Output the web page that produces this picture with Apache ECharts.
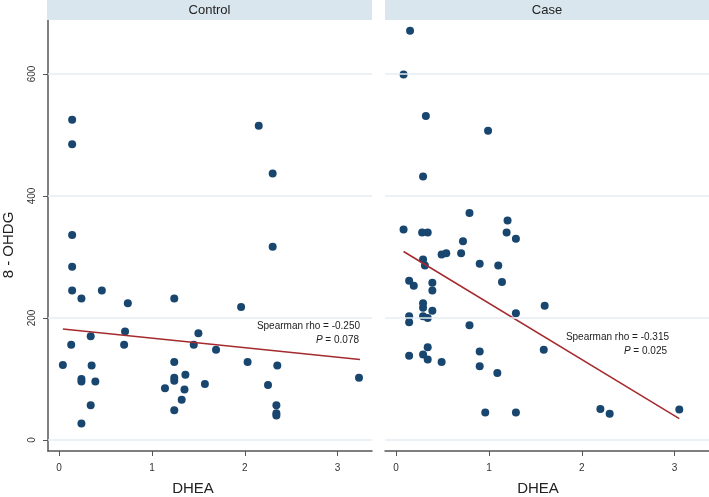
<!DOCTYPE html>
<html>
<head>
<meta charset="utf-8">
<script src="https://cdn.jsdelivr.net/npm/echarts@6/dist/echarts.min.js"></script>
<style>html,body{margin:0;padding:0;background:#fff}#c{width:709px;height:497px}</style>
</head>
<body>
<div id="c"></div>
<script>
// Data
const controlDHEA = [0.14,0.14,2.15,2.30,0.14,2.30,0.14,0.14,0.46,0.24,0.74,1.24,1.96,0.71,1.50,0.34,0.13,0.70,1.45,1.69,0.04,0.35,1.24,2.03,2.35,0.24,0.24,0.39,1.24,1.24,1.36,1.14,1.35,1.57,2.25,3.23,0.34,1.32,1.24,2.34,2.34,2.34,0.24];
const controlOHDG = [525,485,515,437,336,317,284,245,245,232,224,232,218,178,175,170,156,156,156,148,123,122,128,128,122,100,96,96,102,97,107,85,83,92,90,102,57,66,49,57,44,40,27];
const caseDHEA = [0.15,0.08,0.32,0.99,0.29,0.79,1.20,0.08,0.28,0.34,1.19,1.29,0.72,0.29,0.31,0.49,0.54,0.70,0.90,1.10,0.14,0.19,0.39,1.14,0.39,0.29,0.29,0.39,0.14,0.14,0.29,0.34,1.29,1.60,0.79,0.14,0.29,0.34,0.34,0.49,0.90,1.59,0.90,1.09,0.96,1.29,2.20,2.30,3.05];
const caseOHDG = [671,599,531,507,432,372,360,345,340,340,340,330,326,296,286,304,306,306,289,286,261,253,258,259,245,224,217,212,203,193,203,200,208,220,188,138,140,152,132,128,145,148,121,110,45,45,51,43,50];
const controlFitX = [0.04, 3.24];
const controlFitY = [182, 132];
const caseFitX = [0.08, 3.05];
const caseFitY = [309, 35];
const xTicks = [0, 1, 2, 3];
const yTicks = [0, 200, 400, 600];
const panelTitles = ['Control', 'Case'];
const statsControl = ['Spearman rho = -0.250', '0.078'];
const statsCase = ['Spearman rho = -0.315', '0.025'];

const zip = (a, b) => a.map((v, i) => [v, b[i]]);
const FONT = 'Liberation Sans, Arial, sans-serif';
const dotColor = '#18466f';
const lineColor = '#a52a2e';
const gridColor = '#e4edf2';
const axisColor = '#555555';

const chart = echarts.init(document.getElementById('c'));

function xAxisCfg(i) {
  return {
    type: 'value', gridIndex: i, min: -0.12, max: 3.37,
    axisLine: {show: true, onZero: false, lineStyle: {color: axisColor, width: 1.5}},
    axisTick: {show: true, length: 5, customValues: xTicks, lineStyle: {color: axisColor}},
    axisLabel: {show: true, customValues: xTicks, fontSize: 10, color: '#333', fontFamily: FONT, margin: 12},
    splitLine: {show: false}
  };
}
function yAxisCfg(i) {
  return {
    type: 'value', gridIndex: i, min: -18, max: 688.5,
    axisLine: {show: i === 0, onZero: false, lineStyle: {color: axisColor, width: 1.5}},
    axisTick: {show: i === 0, length: 5, customValues: yTicks, lineStyle: {color: axisColor}},
    axisLabel: {show: i === 0, customValues: yTicks, rotate: 90, fontSize: 10, color: '#333', fontFamily: FONT, margin: 11},
    splitLine: {show: false}
  };
}

function gridLinesSeries(i) {
  return {
    type: 'scatter', xAxisIndex: i, yAxisIndex: i, data: [], z: 0, silent: true,
    markLine: {
      silent: true, symbol: 'none', animation: false,
      label: {show: false},
      lineStyle: {color: gridColor, width: 1.5, type: 'solid'},
      data: yTicks.map(v => ({yAxis: v}))
    }
  };
}

const option = {
  animation: false,
  backgroundColor: '#fff',
  grid: [
    {left: 48, top: 20, width: 324, height: 431},
    {left: 385, top: 20, width: 324, height: 431}
  ],
  xAxis: [xAxisCfg(0), xAxisCfg(1)],
  yAxis: [yAxisCfg(0), yAxisCfg(1)],
  series: [
    gridLinesSeries(0),
    gridLinesSeries(1),
    {type: 'scatter', xAxisIndex: 0, yAxisIndex: 0, data: zip(controlDHEA, controlOHDG), symbolSize: 8, itemStyle: {color: dotColor, opacity: 1}, z: 3},
    {type: 'scatter', xAxisIndex: 1, yAxisIndex: 1, data: zip(caseDHEA, caseOHDG), symbolSize: 8, itemStyle: {color: dotColor, opacity: 1}, z: 3},
    {type: 'line', xAxisIndex: 0, yAxisIndex: 0, data: zip(controlFitX, controlFitY), symbol: 'none', lineStyle: {color: lineColor, width: 1.5}, z: 4},
    {type: 'line', xAxisIndex: 1, yAxisIndex: 1, data: zip(caseFitX, caseFitY), symbol: 'none', lineStyle: {color: lineColor, width: 1.5}, z: 4}
  ],
  graphic: [
    {type: 'rect', shape: {x: 47, y: 0, width: 325, height: 20}, style: {fill: '#dae6ee'}, z: 1},
    {type: 'rect', shape: {x: 385, y: 0, width: 324, height: 20}, style: {fill: '#dae6ee'}, z: 1},
    {type: 'text', x: 209.5, y: 10, style: {text: panelTitles[0], fontSize: 13, fontFamily: FONT, fill: '#222', align: 'center', verticalAlign: 'middle'}, z: 2},
    {type: 'text', x: 547, y: 10, style: {text: panelTitles[1], fontSize: 13, fontFamily: FONT, fill: '#222', align: 'center', verticalAlign: 'middle'}, z: 2},
    {type: 'text', x: 193, y: 489, style: {text: 'DHEA', fontSize: 15, fontFamily: FONT, fill: '#222', align: 'center', verticalAlign: 'middle'}},
    {type: 'text', x: 538, y: 489, style: {text: 'DHEA', fontSize: 15, fontFamily: FONT, fill: '#222', align: 'center', verticalAlign: 'middle'}},
    {type: 'text', x: 9, y: 245, rotation: Math.PI / 2, style: {text: '8 - OHDG', fontSize: 15, fontFamily: FONT, fill: '#222', align: 'center', verticalAlign: 'middle'}},
    {type: 'text', x: 360, y: 326, style: {text: statsControl[0], fontSize: 10, fontFamily: FONT, fill: '#222', align: 'right', verticalAlign: 'middle'}, z: 10},
    {type: 'text', x: 359, y: 340.5, style: {text: '{i|P} = ' + statsControl[1], rich: {i: {fontStyle: 'italic', fontSize: 10, fontFamily: FONT, fill: '#222'}}, fontSize: 10, fontFamily: FONT, fill: '#222', align: 'right', verticalAlign: 'middle'}, z: 10},
    {type: 'text', x: 669, y: 337, style: {text: statsCase[0], fontSize: 10, fontFamily: FONT, fill: '#222', align: 'right', verticalAlign: 'middle'}, z: 10},
    {type: 'text', x: 667, y: 351.5, style: {text: '{i|P} = ' + statsCase[1], rich: {i: {fontStyle: 'italic', fontSize: 10, fontFamily: FONT, fill: '#222'}}, fontSize: 10, fontFamily: FONT, fill: '#222', align: 'right', verticalAlign: 'middle'}, z: 10}
  ]
};
chart.setOption(option);
</script>
</body>
</html>
